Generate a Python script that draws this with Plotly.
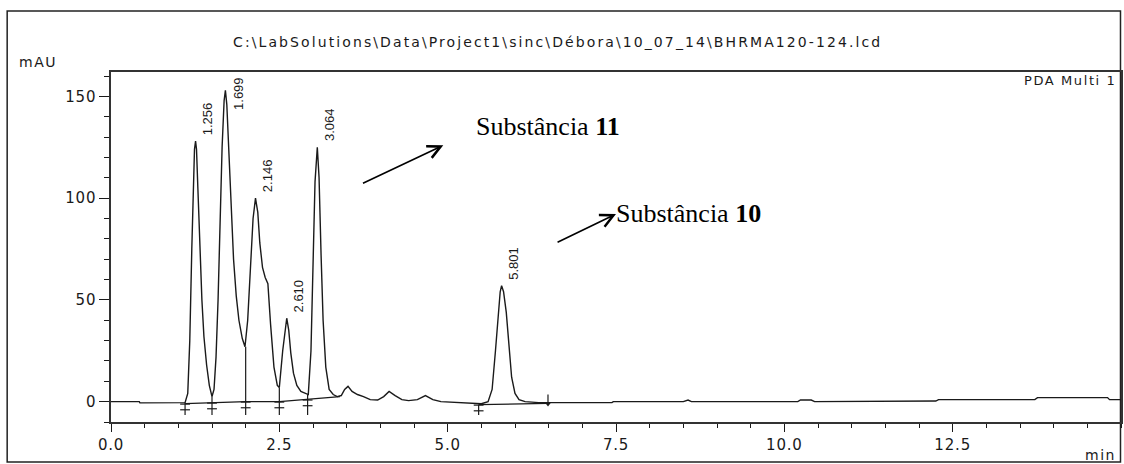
import plotly.graph_objects as go

# ---- chromatogram data ----
time_min = [0.0, 0.42, 0.43, 1.07, 1.10, 1.14, 1.17, 1.20, 1.22, 1.24, 1.256, 1.27, 1.29, 1.32, 1.35,
            1.38, 1.42, 1.46, 1.50, 1.53, 1.56, 1.59, 1.62, 1.65, 1.68, 1.699, 1.72, 1.75, 1.78, 1.82,
            1.86, 1.90, 1.95, 1.99, 2.03, 2.07, 2.11, 2.146, 2.18, 2.21, 2.25, 2.29, 2.33, 2.37, 2.42,
            2.47, 2.50, 2.55, 2.59, 2.61, 2.64, 2.67, 2.71, 2.76, 2.82, 2.88, 2.93, 2.97, 3.00, 3.03,
            3.064, 3.09, 3.12, 3.15, 3.19, 3.24, 3.30, 3.36, 3.42, 3.47, 3.52, 3.58, 3.66, 3.75, 3.85,
            3.96, 4.05, 4.13, 4.22, 4.32, 4.42, 4.55, 4.67, 4.78, 4.90, 5.05, 5.20, 5.35, 5.50, 5.60,
            5.66, 5.71, 5.75, 5.78, 5.801, 5.83, 5.87, 5.91, 5.95, 6.00, 6.06, 6.15, 6.35, 6.6, 7.0,
            7.44, 7.46, 8.0, 8.5, 8.57, 8.62, 9.0, 9.5, 10.2, 10.24, 10.4, 10.45, 10.6, 10.65, 11.5,
            12.25, 12.29, 13.0, 13.72, 13.76, 14.4, 14.8, 14.83, 15.0]
signal_mau = [0, 0, -0.6, -0.6, -0.5, 4, 30, 75, 105, 124, 128, 124, 105, 75, 50,
              32, 18, 8, 2.5, 6, 22, 50, 88, 125, 148, 153, 146, 122, 95, 70,
              52, 40, 31, 27, 40, 66, 90, 100, 93, 78, 66, 61, 58, 38, 17,
              8, 7, 25, 38, 41, 35, 24, 14, 8, 5, 4, 3.5, 25, 62, 108,
              125, 110, 72, 40, 17, 6, 3.5, 2.5, 3, 6, 7.5, 5, 3.5, 2.5, 1,
              0.8, 2.5, 5, 3, 1, 0.5, 1, 3, 1, 0, -0.3, -0.5, -1, -1, 0,
              6, 25, 42, 54, 57, 54, 44, 26, 12, 4, 1, 0, -0.5, -0.5, -0.5,
              -0.5, 0, 0, 0, 0.8, 0, 0, 0, 0, 0.8, 0.8, 0, 0, 0.3, 0.3,
              0.3, 1, 1, 1, 2, 2, 2, 1, 1]

# peaks
peak_times = [1.256, 1.699, 2.146, 2.610, 3.064, 5.801]
peak_heights = [128, 153, 100, 41, 125, 57]
peak_labels = ["1.256", "1.699", "2.146", "2.610", "3.064", "5.801"]

# integration baseline & events
base1_t = [1.10, 1.50, 2.00, 2.50, 2.92, 3.40]
base1_v = [-1.0, -0.5, 0.0, 0.0, 1.0, 2.5]
base2_t = [5.46, 6.49]
base2_v = [-1.5, -0.8]
event_t = [1.10, 1.50, 2.00, 2.50, 2.92, 5.46]
event_top = [-0.5, 2.5, 27, 7, 3.5, -1.5]
event_base = [-1.0, -0.5, 0.0, 0.0, 1.0, -1.5]
end_event_t = [6.49]
end_event_top = [3.5]
end_event_base = [-0.8]

x_tickvals = [0, 2.5, 5.0, 7.5, 10.0, 12.5]
x_ticktext = ["0.0", "2.5", "5.0", "7.5", "10.0", "12.5"]
y_tickvals = [0, 50, 100, 150]
y_ticktext = ["0", "50", "100", "150"]

title_text = "C:\\LabSolutions\\Data\\Project1\\sinc\\Débora\\10_07_14\\BHRMA120-124.lcd"
sub11 = "Substância <b>11</b>"
sub10 = "Substância <b>10</b>"

INK = "#1a1a1a"
SP = lambda s, px=1.6: f'<span style="letter-spacing:{px}px">{s}</span>'

fig = go.Figure()

fig.add_trace(go.Scatter(x=time_min, y=signal_mau, mode="lines",
                         line=dict(color=INK, width=1.4), hoverinfo="skip"))

# integration baselines
for bt, bv in [(base1_t, base1_v), (base2_t, base2_v)]:
    fig.add_trace(go.Scatter(x=bt, y=bv, mode="lines",
                             line=dict(color=INK, width=1.2), hoverinfo="skip"))

# drop lines / event marks
dx, dy = [], []
for t, top in zip(event_t, event_top):
    dx += [t, t, None]
    dy += [top, -6.5, None]
for t, top in zip(end_event_t, end_event_top):
    dx += [t, t, None]
    dy += [top, -1.5, None]
fig.add_trace(go.Scatter(x=dx, y=dy, mode="lines",
                         line=dict(color=INK, width=1.2), hoverinfo="skip"))
fig.add_trace(go.Scatter(x=event_t + event_t, y=[b - 0.2 for b in event_base] + [b - 3.0 for b in event_base],
                         mode="markers",
                         marker=dict(symbol="line-ew", size=7, line=dict(color=INK, width=1.2)),
                         hoverinfo="skip"))
fig.add_trace(go.Scatter(x=end_event_t, y=[b - 0.3 for b in end_event_base], mode="markers",
                         marker=dict(symbol="triangle-down", size=5, color=INK),
                         hoverinfo="skip"))

annotations = []
for t, h, lab in zip(peak_times, peak_heights, peak_labels):
    if h > 145:
        annotations.append(dict(x=t, y=160.5, text=lab, showarrow=False, textangle=-90,
                                xanchor="center", yanchor="top", xshift=13,
                                font=dict(family="Liberation Sans", size=13, color=INK)))
    else:
        annotations.append(dict(x=t, y=h, text=lab, showarrow=False, textangle=-90,
                                xanchor="center", yanchor="bottom", xshift=12, yshift=4,
                                font=dict(family="Liberation Sans", size=13, color=INK)))

# arrows
annotations.append(dict(x=4.935, y=126, ax=3.72, ay=107, axref="x", ayref="y", xref="x", yref="y",
                        text="", showarrow=True, arrowhead=5, arrowsize=1.6, arrowwidth=1.6,
                        arrowcolor="#000", standoff=0, startstandoff=0))
annotations.append(dict(x=7.50, y=92.2, ax=6.61, ay=78, axref="x", ayref="y", xref="x", yref="y",
                        text="", showarrow=True, arrowhead=5, arrowsize=1.6, arrowwidth=1.6,
                        arrowcolor="#000", standoff=0, startstandoff=0))
annotations.append(dict(x=5.395, y=135, text=sub11, showarrow=False, xanchor="left", yanchor="middle",
                        font=dict(family="Liberation Serif", size=26, color="#000")))
annotations.append(dict(x=7.47, y=92.7, text=sub10, showarrow=False, xanchor="left", yanchor="middle",
                        font=dict(family="Liberation Serif", size=26, color="#000")))

# titles / labels
annotations.append(dict(xref="paper", yref="paper", x=0.4417, y=1.0857, text=SP(title_text, 2.1),
                        showarrow=False, xanchor="center", yanchor="middle",
                        font=dict(family="DejaVu Sans", size=14, color=INK)))
annotations.append(dict(xref="paper", yref="paper", x=-0.0721, y=1.0286, text=SP("mAU", 1.5),
                        showarrow=False, xanchor="center", yanchor="middle",
                        font=dict(family="DejaVu Sans", size=14, color=INK)))
annotations.append(dict(xref="paper", yref="paper", x=0.997, y=0.977, text=SP("PDA Multi 1", 1.6),
                        showarrow=False, xanchor="right", yanchor="middle",
                        font=dict(family="DejaVu Sans", size=13, color=INK)))
annotations.append(dict(xref="paper", yref="paper", x=0.997, y=-0.094, text=SP("min", 1.5),
                        showarrow=False, xanchor="right", yanchor="middle",
                        font=dict(family="DejaVu Sans", size=14, color=INK)))

fig.update_layout(
    width=1124, height=464,
    margin=dict(l=111, r=1, t=72, b=42),
    paper_bgcolor="white", plot_bgcolor="white",
    showlegend=False,
    annotations=annotations,
    shapes=[dict(type="rect", xref="paper", yref="paper", x0=-0.1028, x1=0.9995, y0=-0.1143, y1=1.1743,
                 line=dict(color="#222", width=1.5), layer="below")],
)

fig.update_xaxes(range=[0, 15], tickmode="array", tickvals=x_tickvals,
                 ticktext=[SP(s, 0.8) for s in x_ticktext],
                 ticks="outside", ticklen=8, tickwidth=1.2, tickcolor=INK,
                 showline=True, linecolor="#333", linewidth=1.5, mirror=True,
                 showgrid=False, zeroline=False,
                 minor=dict(tickmode="linear", tick0=0, dtick=0.5, ticks="outside", ticklen=4,
                            tickwidth=1.2, tickcolor=INK, showgrid=False),
                 tickfont=dict(family="DejaVu Sans", size=15, color=INK))
fig.update_yaxes(range=[-10, 162], tickmode="array", tickvals=y_tickvals,
                 ticktext=[SP(s, 0.8) for s in y_ticktext],
                 ticks="outside", ticklen=10, tickwidth=1.2, tickcolor=INK,
                 showline=True, linecolor="#333", linewidth=1.5, mirror=True,
                 showgrid=False, zeroline=False,
                 minor=dict(tickmode="linear", tick0=0, dtick=10, ticks="outside", ticklen=5,
                            tickwidth=1.2, tickcolor=INK, showgrid=False),
                 tickfont=dict(family="DejaVu Sans", size=15, color=INK))

fig.write_html("out.html")
